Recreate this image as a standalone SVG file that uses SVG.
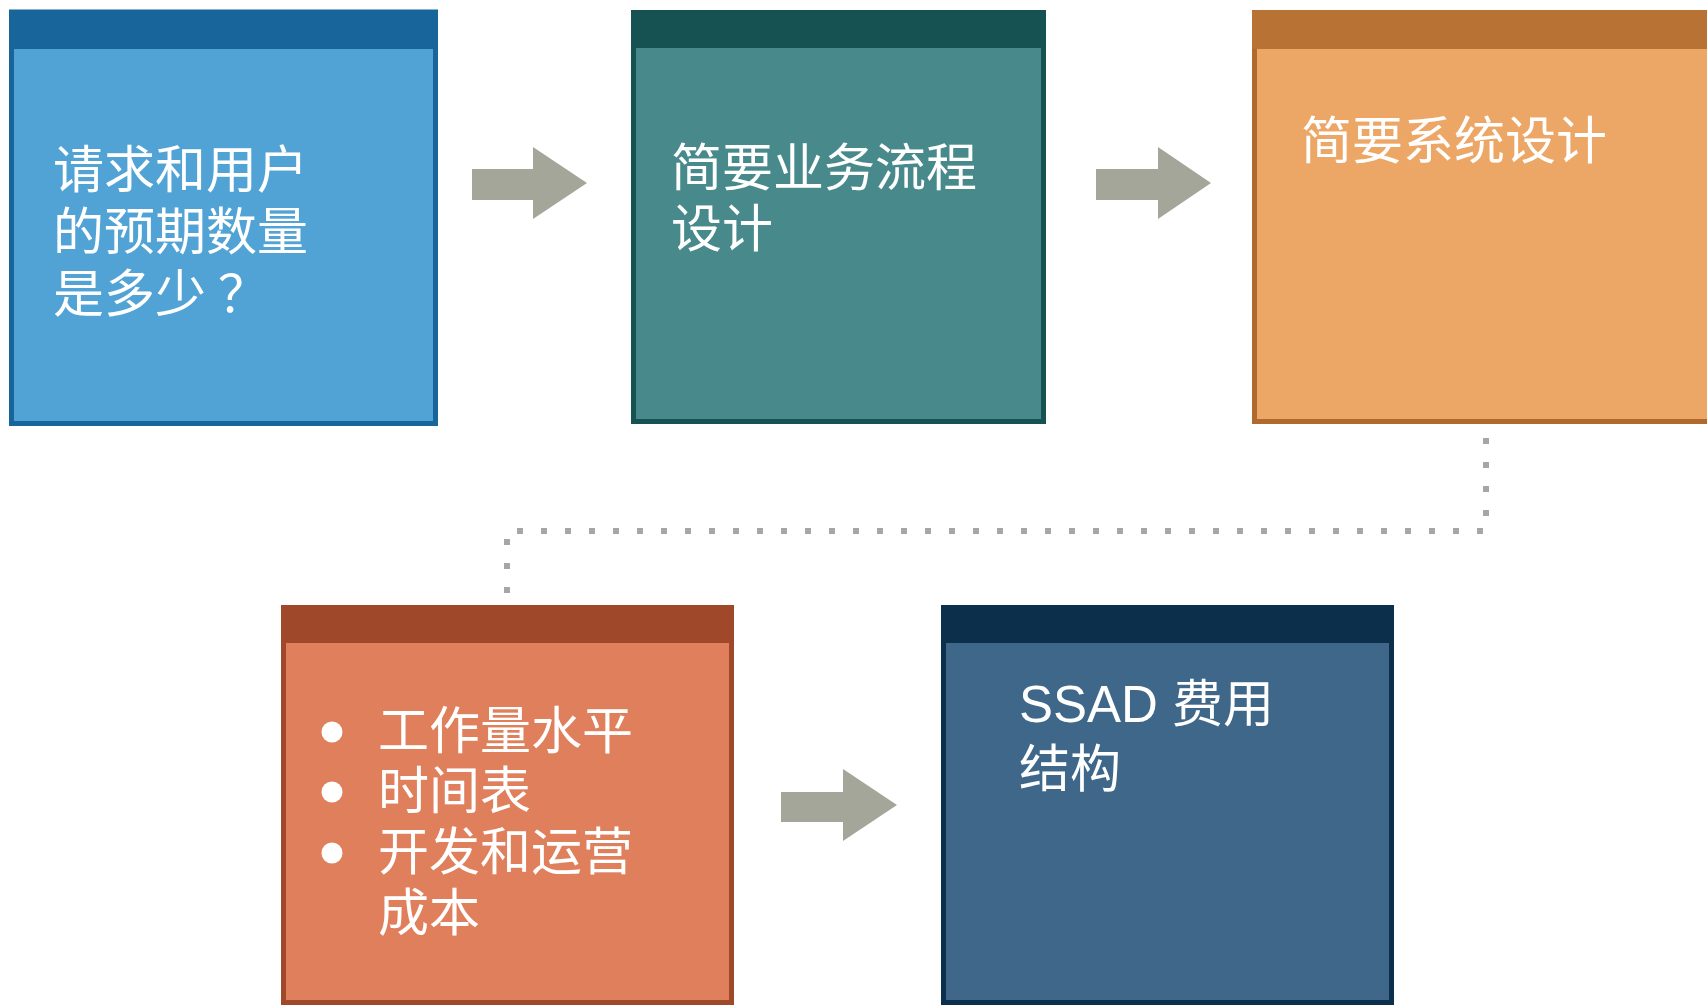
<svg xmlns="http://www.w3.org/2000/svg" width="1707" height="1006" viewBox="0 0 1707 1006">
  <style>
    .txt { font-family: "Noto Sans CJK SC", sans-serif; font-size: 51px; fill: #ffffff; }
    .lat { font-family: "Liberation Sans", "Noto Sans CJK SC", sans-serif; }
    .arrow { fill: #a5a69a; }
    .conn { fill: none; stroke: #a6a6a6; stroke-width: 6; stroke-dasharray: 6 18; }
    .bullet { fill: #ffffff; }
  </style>
  <rect width="1707" height="1006" fill="#ffffff"/>

  <g id="connectors">
    <path class="arrow" d="M472 169 H533 V147 L587 183 L533 219 V200 H472 Z"/>
    <path class="arrow" d="M1096 169 H1158 V147 L1211 183 L1158 219 V200 H1096 Z"/>
    <path class="arrow" d="M781 792 H843 V769 L897 805 L843 841 V822 H781 Z"/>
    <path class="conn" d="M1486 438 V531 H507 V593"/>
  </g>

  <g id="node1">
    <rect x="11.5" y="12" width="424" height="411.5" fill="#51a3d5" stroke="#17659a" stroke-width="5"/>
    <rect x="9" y="10" width="429" height="39" rx="2" fill="#17659a"/>
    <text class="txt" x="53" y="188"><tspan x="53" y="188">请求和用户</tspan><tspan x="53" y="250">的预期数量</tspan><tspan x="53" y="312">是多少<tspan dx="12">？</tspan></tspan></text>
  </g>

  <g id="node2">
    <rect x="633.5" y="12.5" width="410" height="409" fill="#488a8c" stroke="#175252" stroke-width="5"/>
    <rect x="631" y="10" width="415" height="38" rx="2" fill="#175252"/>
    <text class="txt" x="671" y="186"><tspan x="671" y="186">简要业务流程</tspan><tspan x="671" y="247">设计</tspan></text>
  </g>

  <g id="node3">
    <rect x="1254.5" y="12.5" width="480" height="409" fill="#eca766" stroke="#b06a2e" stroke-width="5"/>
    <rect x="1252" y="10" width="490" height="39" rx="2" fill="#b87234"/>
    <text class="txt" x="1301" y="159">简要系统设计</text>
  </g>

  <g id="node4">
    <rect x="283.5" y="607.5" width="448" height="395" fill="#e07f5c" stroke="#a0482a" stroke-width="5"/>
    <rect x="281" y="605" width="453" height="38" rx="2" fill="#a0482a"/>
    <circle class="bullet" cx="332" cy="732" r="10.5"/>
    <circle class="bullet" cx="332" cy="792" r="10.5"/>
    <circle class="bullet" cx="332" cy="853" r="10.5"/>
    <text class="txt" x="378" y="749"><tspan x="378" y="749">工作量水平</tspan><tspan x="378" y="809">时间表</tspan><tspan x="378" y="870">开发和运营</tspan><tspan x="378" y="931">成本</tspan></text>
  </g>

  <g id="node5">
    <rect x="943.5" y="607.5" width="448" height="395" fill="#3e6789" stroke="#0c2f4b" stroke-width="5"/>
    <rect x="941" y="605" width="453" height="38" rx="2" fill="#0c2f4b"/>
    <text class="txt lat" x="1019" y="722"><tspan x="1019" y="722">SSAD 费用</tspan><tspan x="1019" y="787">结构</tspan></text>
  </g>
</svg>
